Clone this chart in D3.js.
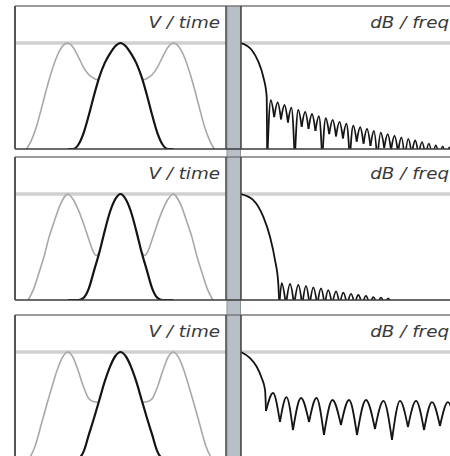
<!DOCTYPE html>
<html><head><meta charset="utf-8">
<script src="https://cdn.jsdelivr.net/npm/d3@7/dist/d3.min.js"></script>
<style>html,body{margin:0;padding:0;background:#fff;}svg{display:block;}</style>
</head><body><svg id="c" width="450" height="456"></svg>
<script>
// ---------- data ----------
const panelTitles = ["V / time", "dB / freq"];
const timeGrid = [-1,-0.9,-0.8,-0.7,-0.6,-0.5,-0.4,-0.3,-0.2,-0.1,0,0.1,0.2,0.3,0.4,0.5,0.6,0.7,0.8,0.9,1];
const black1 = [0,0,0.04,0.15,0.32,0.51,0.68,0.81,0.90,0.97,1,0.97,0.90,0.81,0.68,0.51,0.32,0.15,0.04,0,0];
const black2 = [0,0,0,0.02,0.11,0.28,0.45,0.65,0.83,0.95,1,0.95,0.83,0.65,0.45,0.28,0.11,0.02,0,0,0];
const black3 = [0,0,0,0.06,0.22,0.38,0.55,0.72,0.86,0.96,1,0.96,0.86,0.72,0.55,0.38,0.22,0.06,0,0,0];

const grayLeft1 = [[-1.78,0],[-1.7,0.07],[-1.6,0.2],[-1.5,0.38],[-1.4,0.57],[-1.3,0.74],[-1.2,0.88],[-1.1,0.97],[-1.0,1.0],[-0.9,0.96],[-0.8,0.87],[-0.7,0.77],[-0.6,0.70],[-0.5,0.665],[-0.45,0.655],[-0.41,0.663]];
const grayRight1 = [[0.41,0.663],[0.45,0.655],[0.5,0.665],[0.6,0.70],[0.7,0.77],[0.8,0.87],[0.9,0.96],[1.0,1.0],[1.1,0.97],[1.2,0.88],[1.3,0.74],[1.4,0.57],[1.5,0.38],[1.6,0.2],[1.7,0.07],[1.78,0]];
const grayLeft2 = [[-1.75,0],[-1.65,0.1],[-1.55,0.25],[-1.45,0.41],[-1.35,0.6],[-1.25,0.75],[-1.15,0.89],[-1.05,0.98],[-1.0,1.0],[-0.9,0.95],[-0.8,0.85],[-0.7,0.72],[-0.6,0.57],[-0.52,0.46],[-0.46,0.42],[-0.4,0.45]];
const grayRight2 = [[0.4,0.45],[0.46,0.42],[0.52,0.46],[0.6,0.57],[0.7,0.72],[0.8,0.85],[0.9,0.95],[1.0,1.0],[1.05,0.98],[1.15,0.89],[1.25,0.75],[1.35,0.6],[1.45,0.41],[1.55,0.25],[1.65,0.1],[1.75,0]];
const grayLeft3 = [[-1.72,0],[-1.62,0.11],[-1.5,0.32],[-1.4,0.5],[-1.3,0.67],[-1.2,0.83],[-1.1,0.95],[-1.0,1.0],[-0.9,0.95],[-0.8,0.82],[-0.7,0.67],[-0.6,0.56],[-0.5,0.53],[-0.42,0.525]];
const grayRight3 = [[0.42,0.525],[0.5,0.53],[0.6,0.56],[0.7,0.67],[0.8,0.82],[0.9,0.95],[1.0,1.0],[1.1,0.95],[1.2,0.83],[1.3,0.67],[1.4,0.5],[1.5,0.32],[1.62,0.11],[1.72,0]];

// frequency responses (frequency in bins, level in dB)
const mainLobe1 = [[0,0],[1.02,-6.6],[1.65,-17.6],[2.12,-31.8],[2.45,-50.7],[2.5,-110]];
const nullsF1 = [2.5,3.16,3.81,4.47,5.12,5.78,6.43,7.09,7.74,8.4,9.05,9.71,10.36,11.02,11.67,12.33,12.98,13.64,14.29,14.95,15.6,16.26,16.91,17.57,18.22,18.88,19.53,20.19];
const nullsDb1 = [-110,-70,-72,-75,-110,-79,-81,-83,-110,-86,-88,-90,-110,-93,-95,-97,-110,-99,-101,-103,-110,-105,-106,-107,-110,-108,-109,-110];
const peaksF1 = [2.83,3.49,4.14,4.8,5.45,6.11,6.76,7.42,8.07,8.73,9.38,10.04,10.69,11.35,12.0,12.66,13.31,13.97,14.62,15.28,15.93,16.59,17.24,17.9,18.55,19.21,19.86];
const peaksDb1 = [-54,-56,-58.5,-61,-63,-65,-67,-69,-71,-72.5,-74.5,-76,-78,-79.5,-81,-83,-84.5,-86,-87.5,-89,-90.5,-92,-93.5,-95,-96.5,-97.5,-98.5];

const mainLobe2 = [[0,0],[1.17,-5.7],[2.12,-21.4],[2.76,-40.3],[3.24,-62.3],[3.55,-84.3],[3.65,-105]];
const nullsF2 = [3.65,4.28,5.06,5.83,6.54,7.26,7.97,8.68,9.4,10.11,10.83,11.54,12.25,12.97,13.68,14.37];
const nullsDb2 = [-105,-105,-105,-105,-105,-105,-105,-105,-105,-105,-105,-105,-105,-105,-105,-105];
const peaksF2 = [3.88,4.67,5.46,6.19,6.89,7.62,8.31,9.05,9.74,10.48,11.17,11.9,12.6,13.33,14.02];
const peaksDb2 = [-84.2,-84.9,-85.8,-86.8,-88,-89,-90.6,-91.8,-93.1,-94.3,-95.3,-96.2,-97.2,-97.8,-98.4];

const mainLobe3 = [[0,0],[0.86,-5.7],[1.5,-13.9],[1.97,-24.5],[2.29,-35.8],[2.38,-55.7]];
const nullsF3 = [2.38,3.71,4.95,6.48,7.9,9.52,11.05,12.76,14.38,15.9,17.43,18.95,20.5];
const nullsDb3 = [-55.7,-66,-73.6,-66,-78.3,-68.9,-78.3,-72.6,-83,-70.8,-73.6,-69.8,-73.6];
const peaksF3 = [3.05,4.33,5.71,7.19,8.71,10.29,11.9,13.57,15.14,16.67,18.19,19.71];
const peaksDb3 = [-38.7,-42.5,-43.4,-43.4,-45.3,-45.3,-45.3,-46.2,-46.2,-46.2,-47.2,-47.2];

const rows = [
  {top:6,   black:black1, gL:grayLeft1, gR:grayRight1, main:mainLobe1, nf:nullsF1, nd:nullsDb1, pf:peaksF1, pd:peaksDb1},
  {top:157, black:black2, gL:grayLeft2, gR:grayRight2, main:mainLobe2, nf:nullsF2, nd:nullsDb2, pf:peaksF2, pd:peaksDb2},
  {top:315, black:black3, gL:grayLeft3, gR:grayRight3, main:mainLobe3, nf:nullsF3, nd:nullsDb3, pf:peaksF3, pd:peaksDb3}
];

// ---------- drawing ----------
const svg = d3.select("#c");
const H = 143, LINE = 37;
const LX0 = 15, LX1 = 226, RX0 = 241, RX1 = 452;

svg.append("rect").attr("width",450).attr("height",456).attr("fill","#fff");

// vertical separator bar
svg.append("rect").attr("x",227).attr("y",6).attr("width",13.5).attr("height",450).attr("fill","#b8bfc6");
svg.append("line").attr("x1",227).attr("x2",227).attr("y1",6).attr("y2",456).attr("stroke","#8d949b").attr("stroke-width",1);
svg.append("line").attr("x1",240.5).attr("x2",240.5).attr("y1",6).attr("y2",456).attr("stroke","#8d949b").attr("stroke-width",1);

rows.forEach((r,i)=>{
  const y0 = r.top, y1 = r.top + H;
  const xT = d3.scaleLinear().domain([-2,2]).range([LX0,LX1]);
  const yT = d3.scaleLinear().domain([0,1]).range([y1, y0+LINE]);
  const xF = d3.scaleLinear().domain([0,20]).range([RX0,RX0+210]);
  const yF = d3.scaleLinear().domain([-100,0]).range([y1, y0+LINE]);

  const defs = svg.append("defs");
  defs.append("clipPath").attr("id","cl"+i).append("rect").attr("x",LX0).attr("y",y0).attr("width",LX1-LX0).attr("height",H);
  defs.append("clipPath").attr("id","cr"+i).append("rect").attr("x",RX0).attr("y",y0).attr("width",RX1-RX0).attr("height",H);

  // panel backgrounds
  svg.append("rect").attr("x",LX0).attr("y",y0).attr("width",LX1-LX0).attr("height",H).attr("fill","#fff");
  svg.append("rect").attr("x",RX0).attr("y",y0).attr("width",RX1-RX0).attr("height",H).attr("fill","#fff");

  // 0-level guide lines
  [[LX0,LX1],[RX0,RX1]].forEach(([a,b])=>{
    svg.append("line").attr("x1",a).attr("x2",b).attr("y1",y0+LINE).attr("y2",y0+LINE)
      .attr("stroke","#d0d0d0").attr("stroke-width",3.5);
  });

  // titles
  svg.append("text").attr("transform",`translate(${LX1-6},${y0+22}) scale(1.22,1)`)
    .attr("text-anchor","end").attr("font-family","DejaVu Sans").attr("font-style","italic")
    .attr("font-size",15).attr("fill","#3a3a3a").text(panelTitles[0]);
  svg.append("text").attr("transform",`translate(449,${y0+22}) scale(1.22,1)`)
    .attr("text-anchor","end").attr("font-family","DejaVu Sans").attr("font-style","italic")
    .attr("font-size",15).attr("fill","#3a3a3a").text(panelTitles[1]);

  // time domain
  const gl = svg.append("g").attr("clip-path",`url(#cl${i})`);
  const lineT = d3.line().x(d=>xT(d[0])).y(d=>yT(d[1])).curve(d3.curveMonotoneX);
  [r.gL, r.gR].forEach(g=>{
    gl.append("path").attr("d",lineT(g)).attr("fill","none").attr("stroke","#a8a8a8").attr("stroke-width",1.6);
  });
  gl.append("path").attr("d",lineT(timeGrid.map((t,k)=>[t,r.black[k]])))
    .attr("fill","none").attr("stroke","#141414").attr("stroke-width",2.2);

  // frequency domain
  const gr = svg.append("g").attr("clip-path",`url(#cr${i})`);
  const lineF = d3.line().x(d=>xF(d[0])).y(d=>yF(d[1])).curve(d3.curveMonotoneX);
  gr.append("path").attr("d",lineF(r.main)).attr("fill","none").attr("stroke","#141414").attr("stroke-width",1.8);
  r.pf.forEach((pf,k)=>{
    const seg = [[r.nf[k],r.nd[k]],[pf,r.pd[k]],[r.nf[k+1],r.nd[k+1]]];
    gr.append("path").attr("d",lineF(seg)).attr("fill","none").attr("stroke","#141414").attr("stroke-width",1.8);
  });

  // frames
  const fr = (x1,y1_,x2,y2,c,w)=>svg.append("line").attr("x1",x1).attr("y1",y1_).attr("x2",x2).attr("y2",y2).attr("stroke",c).attr("stroke-width",w);
  fr(LX0,y0,RX1,y0,"#7a7a7a",1.5);
  fr(LX0,y1,RX1,y1,"#3a3a3a",1.5);
  fr(LX0,y0,LX0,y1,"#555",2);
  fr(LX1,y0,LX1,y1,"#444",1.5);
  fr(RX0,y0,RX0,y1,"#444",1.5);
});
</script></body></html>
